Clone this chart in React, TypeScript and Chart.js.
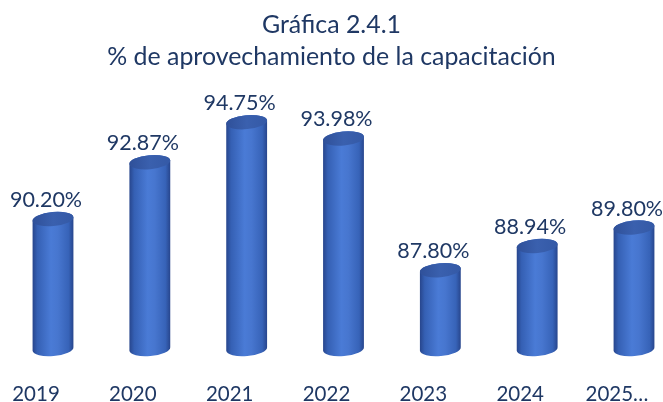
import React, { useEffect, useRef } from "react";
import { Chart, registerables } from "chart.js";

Chart.register(...registerables);

const categories = ["2019", "2020", "2021", "2022", "2023", "2024", "2025…"];
const values = [90.2, 92.87, 94.75, 93.98, 87.8, 88.94, 89.8];
const valueLabels = ["90.20%", "92.87%", "94.75%", "93.98%", "87.80%", "88.94%", "89.80%"];
const titleLines = ["Gráfica 2.4.1", "% de aprovechamiento de la capacitación"];
const yMin = 84.1;
const yMax = 96.1;

const NAVY = "#1f3864";
const FONT = "Lato, 'Noto Sans', sans-serif";

const cylinderPlugin = {
  id: "cylinders",
  afterDatasetsDraw(chart: any) {
    const ctx = chart.ctx;
    const meta = chart.getDatasetMeta(0);
    const rot = -0.09;
    meta.data.forEach((bar: any) => {
      const { x, y, base, width } = bar.getProps(["x", "y", "base", "width"], true);
      const rx = width / 2;
      const ry = 7;
      const c = Math.cos(rot), s = Math.sin(rot);
      ctx.save();
      const g = ctx.createLinearGradient(x - rx, 0, x + rx, 0);
      g.addColorStop(0, "#27458c");
      g.addColorStop(0.12, "#3560b4");
      g.addColorStop(0.45, "#4a7bd6");
      g.addColorStop(0.62, "#4776cf");
      g.addColorStop(0.88, "#3763b8");
      g.addColorStop(1, "#27458c");
      ctx.beginPath();
      ctx.moveTo(x - rx * c, y - rx * s);
      ctx.lineTo(x - rx * c, base - rx * s);
      ctx.ellipse(x, base, rx, ry, rot, Math.PI, 0, true);
      ctx.lineTo(x + rx * c, y + rx * s);
      ctx.ellipse(x, y, rx, ry, rot, 0, -Math.PI, true);
      ctx.closePath();
      ctx.fillStyle = g;
      ctx.fill();
      const tg = ctx.createLinearGradient(x - rx, 0, x + rx, 0);
      tg.addColorStop(0, "#2f5099");
      tg.addColorStop(0.5, "#3a60ae");
      tg.addColorStop(1, "#3459a6");
      ctx.beginPath();
      ctx.ellipse(x, y, rx, ry, rot, 0, Math.PI * 2);
      ctx.fillStyle = tg;
      ctx.fill();
      ctx.restore();
    });
  },
};

const labelPlugin = {
  id: "valueLabels",
  afterDatasetsDraw(chart: any) {
    const ctx = chart.ctx;
    const meta = chart.getDatasetMeta(0);
    ctx.save();
    ctx.font = `21.5px ${FONT}`;
    ctx.fillStyle = NAVY;
    ctx.textAlign = "center";
    ctx.textBaseline = "middle";
    meta.data.forEach((bar: any, i: number) => {
      ctx.fillText(valueLabels[i], bar.x - 7, bar.y - 19);
    });
    ctx.restore();
  },
};

export default function App() {
  const ref = useRef<HTMLCanvasElement | null>(null);
  useEffect(() => {
    if (!ref.current) return;
    const chart = new Chart(ref.current, {
      type: "bar",
      data: {
        labels: categories,
        datasets: [
          {
            data: values,
            base: yMin,
            backgroundColor: "rgba(0,0,0,0)",
            barThickness: 41,
          },
        ],
      },
      options: {
        animation: false,
        responsive: true,
        maintainAspectRatio: false,
        layout: { padding: 0 },
        plugins: {
          legend: { display: false },
          tooltip: { enabled: false },
          title: {
            display: true,
            text: titleLines,
            color: NAVY,
            font: { family: FONT, size: 24.9, weight: "normal", lineHeight: 1.285 },
            padding: { top: 9, bottom: 20.4 },
          },
        },
        scales: {
          x: {
            offset: false,
            grid: { display: false },
            border: { display: false },
            ticks: {
              color: NAVY,
              font: { family: FONT, size: 20.5 },
              autoSkip: false,
              maxRotation: 0,
              labelOffset: -17,
              padding: 25,
            },
            afterFit(scale: any) {
              scale.height = 53;
              scale.paddingLeft = 53;
              scale.paddingRight = 29;
            },
          },
          y: {
            display: false,
            min: yMin,
            max: yMax,
          },
        },
      },
      plugins: [cylinderPlugin, labelPlugin],
    });
    return () => chart.destroy();
  }, []);
  return (
    <div style={{ position: "fixed", left: 0, top: 0, width: 663, height: 402, background: "#fff" }}>
      <canvas ref={ref} />
    </div>
  );
}
